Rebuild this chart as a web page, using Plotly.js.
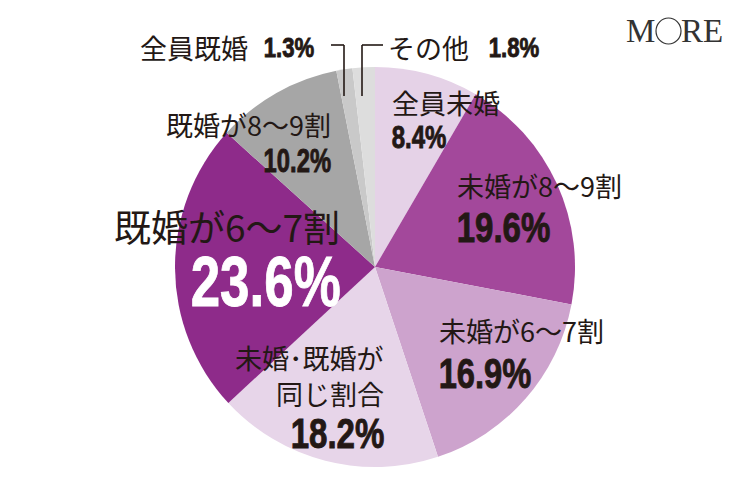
<!DOCTYPE html>
<html><head><meta charset="utf-8">
<script src="https://cdn.plot.ly/plotly-3.0.1.min.js"></script>
<style>html,body{margin:0;padding:0;background:#fff}#c{width:750px;height:490px}</style>
</head><body><div id="c"></div>
<script>
const categories = ["全員未婚","未婚が8〜9割","未婚が6〜7割","未婚・既婚が同じ割合","既婚が6〜7割","既婚が8〜9割","全員既婚","その他"];
const values = [8.4, 19.6, 16.9, 18.2, 23.6, 10.2, 1.3, 1.8];
const labelLines = [["全員未婚"],["未婚が8〜9割"],["未婚が6〜7割"],["未婚･既婚が","同じ割合"],["既婚が6〜7割"],["既婚が8〜9割"],["全員既婚"],["その他"]];
const colors = ["#e5d2e7","#a3489b","#cda3cd","#e7d5e9","#8e2b8a","#a6a6a6","#c9c9c9","#dddddd"];

const JP = "Noto Sans CJK JP, sans-serif";
const NUM = "Liberation Sans, Arial, sans-serif";
const pct = v => v.toFixed(1) + "%";
function px(x){return x/750;} function py(y){return 1-y/490;}

// label layout (pixels): text x, first line y, anchor, text size, number y, number size, number color, number target width
const L = [
  {x:390, y:103, a:"left",  ts:27, ny:137, ns:32, nc:"#231815", w:57},
  {x:455, y:185, a:"left",  ts:27, ny:227, ns:42, nc:"#231815", w:96},
  {x:437, y:330, a:"left",  ts:27, ny:373, ns:43, nc:"#231815", w:95},
  {x:386, y:357, a:"right", ts:27, ny:433, ns:42, nc:"#231815", w:96},
  {x:342, y:226, a:"right", ts:37, ny:282, ns:70, nc:"#ffffff", w:152},
  {x:333, y:125, a:"right", ts:27, ny:161, ns:33, nc:"#231815", w:70},
  {x:250, y:47,  a:"right", ts:27, ny:47,  ns:28, nc:"#231815", w:53, nx:262, na:"left"},
  {x:471, y:47,  a:"right", ts:27, ny:47,  ns:28, nc:"#231815", w:53, nx:487, na:"left"}
];
const ann = [];
const numIdx = [];
L.forEach((p, i) => {
  const lines = labelLines[i];
  lines.forEach((t, k) => {
    ann.push({xref:"paper", yref:"paper", x:px(p.x), y:py(p.y+k*36), xanchor:p.a, yanchor:"middle",
      text:t, showarrow:false, font:{family:JP, size:p.ts, color:"#231815"}});
  });
  const nx = p.nx !== undefined ? p.nx : p.x;
  const na = p.na || p.a;
  numIdx.push({idx:ann.length, anchor:na, w:p.w, c:p.nc});
  ann.push({xref:"paper", yref:"paper", x:px(nx), y:py(p.ny), xanchor:na, yanchor:"middle",
    text:"<b>"+pct(values[i])+"</b>", showarrow:false, font:{family:NUM, size:p.ns, color:p.nc}});
});
// logo
ann.push({xref:"paper", yref:"paper", x:px(657), y:py(31), xanchor:"right", yanchor:"middle", showarrow:false,
  text:"M", font:{family:"Liberation Serif, serif", size:33, color:"#333333"}});
ann.push({xref:"paper", yref:"paper", x:px(679), y:py(31), xanchor:"left", yanchor:"middle", showarrow:false,
  text:"RE", font:{family:"Liberation Serif, serif", size:33, color:"#333333"}});

const lineS = {color:"#231815", width:1.6};
const shp = [
  {type:"line", xref:"paper", yref:"paper", x0:px(331), y0:py(45), x1:px(344), y1:py(45), line:lineS},
  {type:"line", xref:"paper", yref:"paper", x0:px(344), y0:py(45), x1:px(344), y1:py(96), line:lineS},
  {type:"line", xref:"paper", yref:"paper", x0:px(362), y0:py(45), x1:px(383), y1:py(45), line:lineS},
  {type:"line", xref:"paper", yref:"paper", x0:px(362), y0:py(45), x1:px(362), y1:py(96), line:lineS},
  {type:"circle", xref:"paper", yref:"paper", x0:px(656), y0:py(18), x1:px(681), y1:py(44), line:{color:"#333333", width:1.2}}
];

Plotly.newPlot("c", [{
  type:"pie", labels:categories, values:values, sort:false, direction:"clockwise", rotation:0,
  marker:{colors:colors, line:{width:0}}, textinfo:"none", hoverinfo:"none",
  domain:{x:[175/750, 575/750], y:[23/490, 1-67/490]}
}], {
  width:750, height:490, margin:{l:0,r:0,t:0,b:0}, showlegend:false,
  paper_bgcolor:"#ffffff", annotations:ann, shapes:shp
}, {staticPlot:true}).then(gd => {
  // condense the heavy percentage numbers horizontally (the original uses a condensed black face)
  const groups = gd.querySelectorAll(".annotation");
  numIdx.forEach(n => {
    const g = groups[n.idx];
    if (!g) return;
    const t = g.querySelector("text.annotation-text");
    if (t) {
      t.style.stroke = n.c;
      t.style.strokeWidth = "0.9px";
      t.style.paintOrder = "stroke";
    }
    const bb = g.getBBox();
    const s = Math.min(1, n.w / bb.width);
    const ax = n.anchor === "left" ? bb.x : bb.x + bb.width;
    g.setAttribute("transform", "translate(" + ax + ",0) scale(" + s + ",1) translate(" + (-ax) + ",0)");
  });
});
</script></body></html>
